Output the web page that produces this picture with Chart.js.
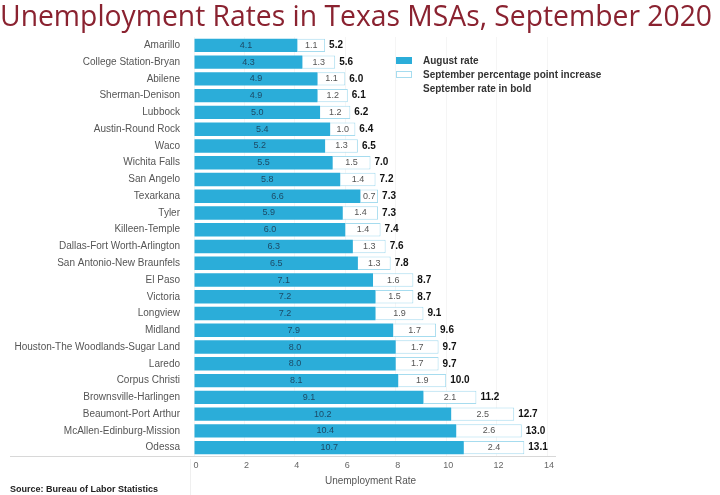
<!DOCTYPE html>
<html><head><meta charset="utf-8">
<script src="https://cdn.jsdelivr.net/npm/chart.js@4/dist/chart.umd.min.js"></script>
<style>html,body{margin:0;padding:0;background:#fff}#wrap{width:720px;height:495px;position:relative}</style>
</head><body><div id="wrap"><canvas id="c" width="720" height="495"></canvas></div>
<script>
const categories = ["Amarillo","College Station-Bryan","Abilene","Sherman-Denison","Lubbock","Austin-Round Rock","Waco","Wichita Falls","San Angelo","Texarkana","Tyler","Killeen-Temple","Dallas-Fort Worth-Arlington","San Antonio-New Braunfels","El Paso","Victoria","Longview","Midland","Houston-The Woodlands-Sugar Land","Laredo","Corpus Christi","Brownsville-Harlingen","Beaumont-Port Arthur","McAllen-Edinburg-Mission","Odessa"];
const augustRate = [4.1,4.3,4.9,4.9,5.0,5.4,5.2,5.5,5.8,6.6,5.9,6.0,6.3,6.5,7.1,7.2,7.2,7.9,8.0,8.0,8.1,9.1,10.2,10.4,10.7];
const septIncrease = [1.1,1.3,1.1,1.2,1.2,1.0,1.3,1.5,1.4,0.7,1.4,1.4,1.3,1.3,1.6,1.5,1.9,1.7,1.7,1.7,1.9,2.1,2.5,2.6,2.4];
const septRate = [5.2,5.6,6.0,6.1,6.2,6.4,6.5,7.0,7.2,7.3,7.3,7.4,7.6,7.8,8.7,8.7,9.1,9.6,9.7,9.7,10.0,11.2,12.7,13.0,13.1];
const xTicks = [0,2,4,6,8,10,12,14];
const titleText = 'Unemployment Rates in Texas MSAs, September 2020';
const legendLabels = ['August rate','September percentage point increase','September rate in bold'];
const sourceText = 'Source: Bureau of Labor Statistics';

const LBL = '"Liberation Sans",Arial,sans-serif';

const labelPlugin = {
  id:'labels',
  afterDatasetsDraw(chart){
    const ctx = chart.ctx;
    const m0 = chart.getDatasetMeta(0), m1 = chart.getDatasetMeta(1);
    ctx.save();
    ctx.textBaseline='middle';
    m0.data.forEach((b,i)=>{
      ctx.font = '9px '+LBL; ctx.fillStyle='#1c4a66'; ctx.textAlign='center';
      ctx.fillText(augustRate[i].toFixed(1), (b.x+b.base)/2, b.y);
      const w = m1.data[i];
      ctx.fillStyle='#555';
      ctx.fillText(septIncrease[i].toFixed(1), (w.x+w.base)/2, w.y);
      ctx.font = 'bold 10px '+LBL; ctx.fillStyle='#111'; ctx.textAlign='left';
      ctx.fillText(septRate[i].toFixed(1), w.x+4, w.y);
    });
    ctx.restore();
  },
  afterDraw(chart){
    const ctx = chart.ctx;
    ctx.save();
    ctx.font = '28.3px "Open Sans",sans-serif'; ctx.fillStyle='#8a2230';
    ctx.textAlign='left'; ctx.textBaseline='alphabetic';
    ctx.fillText(titleText, 0, 26);
    ctx.strokeStyle='#d8d8d8'; ctx.lineWidth=1;
    ctx.beginPath(); ctx.moveTo(10, chart.chartArea.bottom+0.5); ctx.lineTo(556, chart.chartArea.bottom+0.5); ctx.stroke();
    ctx.strokeStyle='#efefef';
    ctx.beginPath(); ctx.moveTo(190.5, chart.chartArea.bottom+3); ctx.lineTo(190.5, 495); ctx.stroke();
    ctx.fillStyle='#2badd9'; ctx.fillRect(396,57,16,7);
    ctx.fillStyle='#fff'; ctx.strokeStyle='#a6dcef'; ctx.fillRect(396,71,16,7); ctx.strokeRect(396.5,71.5,15,6);
    ctx.font='bold 10px '+LBL; ctx.fillStyle='#333'; ctx.textAlign='left'; ctx.textBaseline='middle';
    legendLabels.forEach((t,i)=>ctx.fillText(t,423,61+i*14));
    ctx.font='bold 9px '+LBL; ctx.fillStyle='#222';
    ctx.fillText(sourceText,10,490);
    ctx.restore();
  }
};

new Chart(document.getElementById('c'), {
  type:'bar',
  data:{
    labels:categories,
    datasets:[
      {label:legendLabels[0], data:augustRate, backgroundColor:'#2badd9', borderWidth:0, barPercentage:0.8, categoryPercentage:1},
      {label:legendLabels[1], data:septIncrease, backgroundColor:'#ffffff', borderColor:'#a6dcef', borderWidth:1, barPercentage:0.8, categoryPercentage:1}
    ]
  },
  options:{
    indexAxis:'y', responsive:false, animation:false, maintainAspectRatio:false,
    layout:{padding:{left:0,right:173,top:37,bottom:0}},
    plugins:{ legend:{display:false}, tooltip:{enabled:false}, title:{display:false} },
    scales:{
      x:{stacked:true, min:0, max:14,
        afterBuildTicks(s){ s.ticks = xTicks.map(v=>({value:v})); },
        afterFit(s){ s.height = 39; },
        grid:{color:'rgba(0,0,0,0.04)', drawTicks:false}, border:{display:false},
        ticks:{padding:4, labelOffset:2, color:'#666', font:{family:LBL, size:9}},
        title:{display:true, text:'Unemployment Rate', color:'#555', font:{family:LBL, size:10}, padding:{top:0,bottom:8}}
      },
      y:{stacked:true,
        afterFit(s){ s.width = 194; },
        grid:{display:false}, border:{display:false},
        ticks:{padding:6, color:'#555', font:{family:LBL, size:10}, autoSkip:false}
      }
    }
  },
  plugins:[labelPlugin]
});
</script></body></html>
